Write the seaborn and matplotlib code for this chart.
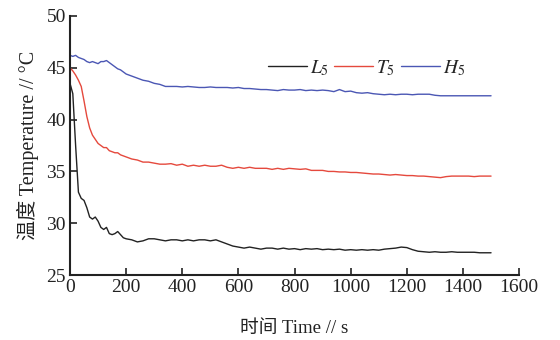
import matplotlib
matplotlib.use("Agg")
import matplotlib.pyplot as plt
import seaborn as sns
import pandas as pd

time_s = [0, 10, 20, 30, 40, 50, 60, 70, 80, 90, 100, 110, 120, 130, 140, 150, 160, 170, 180, 190, 200,
          220, 240, 260, 280, 300, 320, 340, 360, 380, 400, 420, 440, 460, 480, 500, 520, 540, 560, 580, 600,
          620, 640, 660, 680, 700, 720, 740, 760, 780, 800, 820, 840, 860, 880, 900, 920, 940, 960, 980, 1000,
          1020, 1040, 1060, 1080, 1100, 1120, 1140, 1160, 1180, 1200, 1220, 1240, 1260, 1280, 1300, 1320, 1340,
          1360, 1380, 1400, 1420, 1440, 1460, 1480, 1500]

L5 = [43.5, 42.5, 37.5, 33.0, 32.4, 32.2, 31.5, 30.6, 30.4, 30.6, 30.2, 29.6, 29.4, 29.6, 29.0, 28.9, 29.0,
      29.2, 28.9, 28.6, 28.5,
      28.4, 28.2, 28.3, 28.5, 28.5, 28.4, 28.3, 28.4, 28.4, 28.3, 28.4, 28.3, 28.4, 28.4, 28.3, 28.4, 28.2,
      28.0, 27.8, 27.7,
      27.6, 27.7, 27.6, 27.5, 27.6, 27.6, 27.5, 27.6, 27.5, 27.55, 27.45, 27.55, 27.5, 27.55, 27.45, 27.5,
      27.45, 27.5, 27.4, 27.45,
      27.4, 27.45, 27.4, 27.45, 27.4, 27.5, 27.55, 27.6, 27.7, 27.65, 27.45, 27.3, 27.25, 27.2, 27.25, 27.2,
      27.2, 27.25, 27.2, 27.2, 27.2, 27.2, 27.15, 27.15, 27.15]

T5 = [45.0, 44.7, 44.3, 43.8, 43.2, 41.8, 40.3, 39.2, 38.5, 38.1, 37.7, 37.5, 37.3, 37.3, 37.0, 36.9, 36.8,
      36.8, 36.6, 36.5, 36.4,
      36.2, 36.1, 35.9, 35.9, 35.8, 35.7, 35.7, 35.75, 35.6, 35.7, 35.5, 35.6, 35.5, 35.6, 35.5, 35.5, 35.6,
      35.4, 35.3, 35.4,
      35.3, 35.4, 35.3, 35.3, 35.3, 35.2, 35.3, 35.2, 35.3, 35.25, 35.2, 35.25, 35.1, 35.1, 35.1, 35.0,
      35.0, 34.95, 34.95, 34.9,
      34.9, 34.85, 34.8, 34.75, 34.75, 34.7, 34.65, 34.7, 34.65, 34.6, 34.6, 34.55, 34.55, 34.5, 34.45,
      34.4, 34.5, 34.55, 34.55, 34.55, 34.55, 34.5, 34.55, 34.55, 34.55]

H5 = [46.2, 46.1, 46.2, 46.0, 45.9, 45.8, 45.6, 45.5, 45.6, 45.5, 45.4, 45.6, 45.6, 45.7, 45.5, 45.3, 45.1,
      44.9, 44.8, 44.6, 44.4,
      44.2, 44.0, 43.8, 43.7, 43.5, 43.4, 43.2, 43.2, 43.2, 43.15, 43.2, 43.15, 43.1, 43.1, 43.15, 43.1,
      43.1, 43.1, 43.05, 43.1,
      43.0, 43.0, 42.95, 42.9, 42.9, 42.85, 42.8, 42.9, 42.85, 42.85, 42.9, 42.8, 42.85, 42.8, 42.85, 42.8,
      42.7, 42.9, 42.7, 42.75,
      42.6, 42.55, 42.6, 42.5, 42.45, 42.4, 42.45, 42.4, 42.45, 42.45, 42.4, 42.45, 42.45, 42.45, 42.35,
      42.3, 42.3, 42.3, 42.3, 42.3, 42.3, 42.3, 42.3, 42.3, 42.3]

series_names = ["$L_5$", "$T_5$", "$H_5$"]
colors = ["#222222", "#e5493d", "#4b57b4"]
x_ticks = [0, 200, 400, 600, 800, 1000, 1200, 1400, 1600]
y_ticks = [25, 30, 35, 40, 45, 50]

rows = []
for name, vals in zip(series_names, [L5, T5, H5]):
    for t, v in zip(time_s, vals):
        rows.append({"t": t, "temp": v, "series": name})
df = pd.DataFrame(rows)

sns.set_theme(style="ticks")
plt.rcParams["font.family"] = ["Liberation Serif", "Noto Sans CJK SC"]
plt.rcParams["mathtext.fontset"] = "stix"

fig = plt.figure(figsize=(5.6, 3.4), dpi=100)
ax = fig.add_axes([0.125, 0.191, 0.802, 0.762])
sns.lineplot(data=df, x="t", y="temp", hue="series", palette=colors, linewidth=1.0, ax=ax)

ax.set_xlim(0, 1600)
ax.set_ylim(25, 50)
ax.set_xticks(x_ticks)
ax.set_yticks(y_ticks)
ax.tick_params(direction="in", length=5, width=1.2, labelsize=14, pad=3, colors="#222222")
for s in ["top", "right"]:
    ax.spines[s].set_visible(False)
for s in ["left", "bottom"]:
    ax.spines[s].set_linewidth(1.5)
    ax.spines[s].set_color("#222222")

ax.set_xlabel("时间 Time // s", fontsize=13.5, labelpad=17, color="#222222")
ax.set_ylabel("温度 Temperature // °C", fontsize=14.5, labelpad=5, color="#222222")

leg = ax.legend(ncol=3, frameon=False, loc="center", bbox_to_anchor=(0.66, 0.80),
                handlelength=2.0, handletextpad=0.15, columnspacing=0.3, fontsize=14)

fig.savefig("out.png", dpi=100, facecolor="white")
